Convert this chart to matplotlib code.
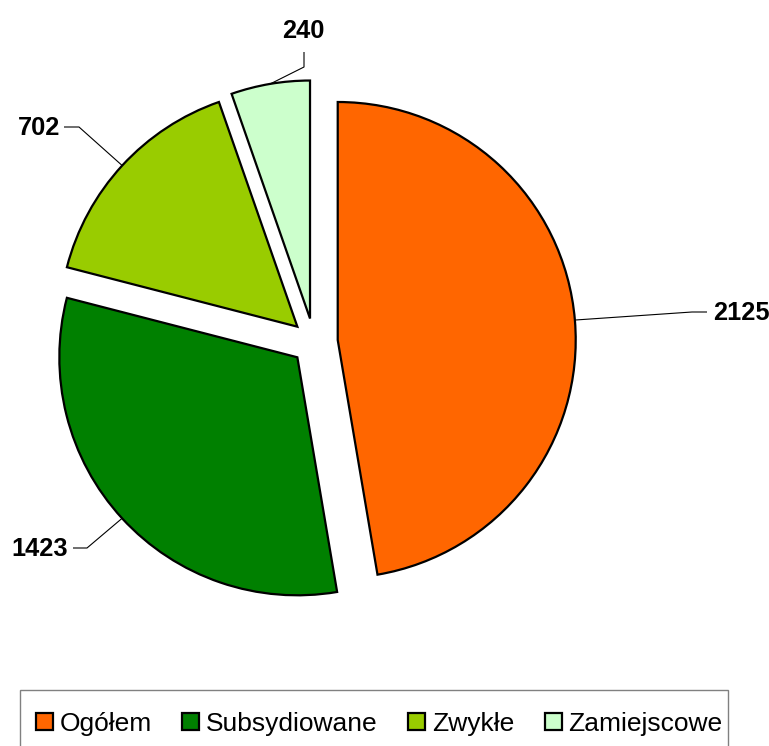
import numpy as np
import matplotlib
matplotlib.use("Agg")
import matplotlib.pyplot as plt
from matplotlib.patches import Patch, Rectangle

categories = ["Ogółem", "Subsydiowane", "Zwykłe", "Zamiejscowe"]
values = [2125, 1423, 702, 240]
colors = ["#FF6600", "#008000", "#99CC00", "#CCFFCC"]

W, H = 769, 746
fig = plt.figure(figsize=(W / 100, H / 100), dpi=100)
ax = fig.add_axes([0, 0, 1, 1])
ax.axis("off")

cx, cy, R = 314, 342, 238  # pixel centre and radius


wedges, _ = ax.pie(values, colors=colors, startangle=90, counterclock=False,
                   explode=[0.1, 0.095, 0.095, 0.1], radius=1.0,
                   wedgeprops=dict(edgecolor="black", linewidth=1.6))
ax.set_aspect("auto")
ax.set_xlim(-cx / R, (W - cx) / R)
ax.set_ylim(-(H - cy) / R, cy / R)


def px(x, y):
    return (x - cx) / R, (cy - y) / R

# label layout: (elbow point px, line end px, text anchor px, ha, va)
label_layout = [
    ((692, 312), (707, 312), (713, 313), "left", "center"),
    ((87, 548), (73, 548), (68, 549), "right", "center"),
    ((79, 127), (64, 127), (60, 128), "right", "center"),
    ((304, 67), (304, 52), (303, 31), "center", "center"),
]

for w, v, (elb, end, txt, ha, va) in zip(wedges, values, label_layout):
    th = np.deg2rad((w.theta1 + w.theta2) / 2)
    c = w.center
    p0 = (c[0] + w.r * np.cos(th), c[1] + w.r * np.sin(th))
    e = px(*elb)
    f = px(*end)
    ax.plot([p0[0], e[0], f[0]], [p0[1], e[1], f[1]], color="black", lw=0.8,
            solid_capstyle="butt")
    t = px(*txt)
    ax.text(t[0], t[1], str(v), ha=ha, va=va, fontsize=18.3, fontweight="bold",
            family="Liberation Sans")

handles = [Patch(facecolor=c, edgecolor="black", linewidth=1.6) for c in colors]
leg = fig.legend(handles, categories, loc="upper left",
                 bbox_to_anchor=(20 / W, 1 - 696 / H), ncol=4,
                 prop=dict(family="Liberation Sans", size=19),
                 frameon=False, borderaxespad=0,
                 handlelength=0.64, handleheight=0.64, handletextpad=0.25,
                 columnspacing=1.17, borderpad=0.6)

# legend frame (extends past the bottom edge as in the original)
fig.patches.append(Rectangle((20 / W, -0.02), (728 - 20) / W, 0.02 + (H - 690) / H,
                             transform=fig.transFigure, facecolor="none",
                             edgecolor="#808080", linewidth=1.0))

fig.savefig("out.png", dpi=100)
